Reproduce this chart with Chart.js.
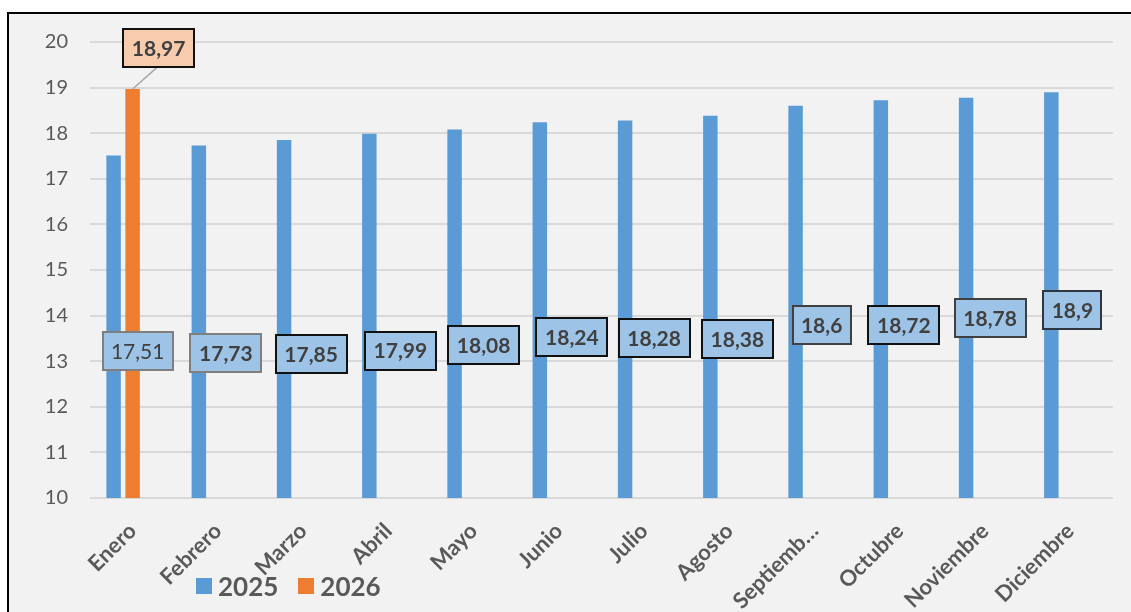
<!DOCTYPE html>
<html>
<head>
<meta charset="utf-8">
<script src="https://cdn.jsdelivr.net/npm/chart.js@4/dist/chart.umd.min.js"></script>
<style>
  body { margin: 0; background: #fff; width: 1131px; height: 612px; overflow: hidden; position: relative; font-family: Lato, sans-serif; }
  #frame { position: absolute; left: 7px; top: 12px; width: 1200px; height: 700px; border: 2px solid #000; background: #f2f2f2; }
  #chart { position: absolute; left: 0; top: 0; }
  #legend { position: absolute; left: 196px; top: 571px; height: 30px; display: flex; align-items: center; font: bold 26px Lato, sans-serif; color: #595959; }
  #legend .sw { width: 16px; height: 16px; margin-right: 6px; }
  #legend .item { display: flex; align-items: center; margin-right: 20px; }
</style>
</head>
<body>
<div id="frame"></div>
<canvas id="chart" width="1131" height="612"></canvas>
<div id="legend"></div>
<script>
// Cotización mensual 2025 vs 2026

const months = ['Enero', 'Febrero', 'Marzo', 'Abril', 'Mayo', 'Junio', 'Julio', 'Agosto', 'Septiemb…', 'Octubre', 'Noviembre', 'Diciembre'];
const values2025 = [17.51, 17.73, 17.85, 17.99, 18.08, 18.24, 18.28, 18.38, 18.6, 18.72, 18.78, 18.9];
const values2026 = [18.97, null, null, null, null, null, null, null, null, null, null, null];
const emptySeries = months.map(() => null);
const yTicks = [10, 11, 12, 13, 14, 15, 16, 17, 18, 19, 20];

// where the (manually moved) value boxes sit, in axis units, and a small sideways nudge
const labelAt2025 = [13.22, 13.17, 13.16, 13.23, 13.35, 13.52, 13.50, 13.49, 13.79, 13.79, 13.94, 14.12];
const labelNudge2025 = [5, 8, 8, 12, 10, 13, 10, 8, 7, 4, 5, 2];
const labelBorder2025 = ['#7f7f7f', '#7f7f7f', '#111', '#111', '#111', '#111', '#111', '#111', '#404040', '#111', '#404040', '#2f3640'];
const labelAt2026 = 19.87;
const labelNudge2026 = 26;

const BLUE = '#5b9bd5';
const ORANGE = '#ed7d31';

const fmt = v => String(v).replace('.', ',');

function drawBox(ctx, cx, cy, text, fill, stroke, bold) {
  ctx.font = (bold ? 'bold ' : '') + '21px Lato, sans-serif';
  const w = Math.round(ctx.measureText(text).width) + 17;
  const h = 38;
  const x = Math.round(cx - w / 2), y = Math.round(cy - h / 2);
  ctx.fillStyle = fill;
  ctx.fillRect(x, y, w, h);
  ctx.lineWidth = 2;
  ctx.strokeStyle = stroke;
  ctx.strokeRect(x, y, w, h);
  ctx.fillStyle = '#404040';
  ctx.textAlign = 'center';
  ctx.textBaseline = 'middle';
  ctx.fillText(text, cx, cy + 1);
  return { x, y, w, h };
}

const boxLabels = {
  id: 'boxLabels',
  afterDatasetsDraw(chart) {
    const ctx = chart.ctx;
    const xs = chart.scales.x, ys = chart.scales.y;
    ctx.save();
    values2025.forEach((v, i) => {
      const cx = xs.getPixelForValue(i) + labelNudge2025[i];
      const cy = ys.getPixelForValue(labelAt2025[i]);
      drawBox(ctx, cx, cy, fmt(v), '#9dc3e6', labelBorder2025[i], i !== 0);
    });
    // 2026 box with leader line to the bar top
    const bar = chart.getDatasetMeta(1).data[0];
    const cx = xs.getPixelForValue(0) + labelNudge2026;
    const cy = ys.getPixelForValue(labelAt2026);
    ctx.strokeStyle = '#a6a6a6';
    ctx.lineWidth = 1.5;
    ctx.beginPath();
    ctx.moveTo(cx - 1, cy + 19);
    ctx.lineTo(bar.x, bar.y);
    ctx.stroke();
    drawBox(ctx, cx, cy, fmt(values2026[0]), '#f8cbad', '#111', true);
    ctx.restore();
  }
};

new Chart(document.getElementById('chart'), {
  type: 'bar',
  data: {
    labels: months,
    datasets: [
      { label: '2025', data: values2025, backgroundColor: BLUE },
      { label: '2026', data: values2026, backgroundColor: ORANGE },
      { label: '', data: emptySeries, backgroundColor: 'transparent' }
    ]
  },
  options: {
    responsive: false,
    animation: false,
    categoryPercentage: 0.67,
    barPercentage: 0.76,
    layout: { padding: { top: 42, right: 18, left: 0, bottom: 0 } },
    plugins: { legend: { display: false }, tooltip: { enabled: false } },
    scales: {
      x: {
        grid: { display: false },
        border: { display: false },
        ticks: {
          autoSkip: false, minRotation: 45, maxRotation: 45, padding: 12,
          color: '#595959', font: { family: 'Lato, sans-serif', size: 22, weight: 'bold' }
        },
        afterFit: s => { s.height = 114; }
      },
      y: {
        min: 10, max: 20,
        afterBuildTicks: s => { s.ticks = yTicks.map(v => ({ value: v })); },
        grid: { color: '#d9d9d9', lineWidth: 2, drawTicks: false },
        border: { display: false },
        ticks: { padding: 22, color: '#595959', font: { family: 'Lato, sans-serif', size: 20 } },
        afterFit: s => { s.width = 90; }
      }
    }
  },
  plugins: [boxLabels]
});

// legend
const legend = document.getElementById('legend');
[['2025', BLUE], ['2026', ORANGE]].forEach(([name, color]) => {
  legend.innerHTML += `<div class="item"><div class="sw" style="background:${color}"></div><span>${name}</span></div>`;
});
</script>
</body>
</html>
